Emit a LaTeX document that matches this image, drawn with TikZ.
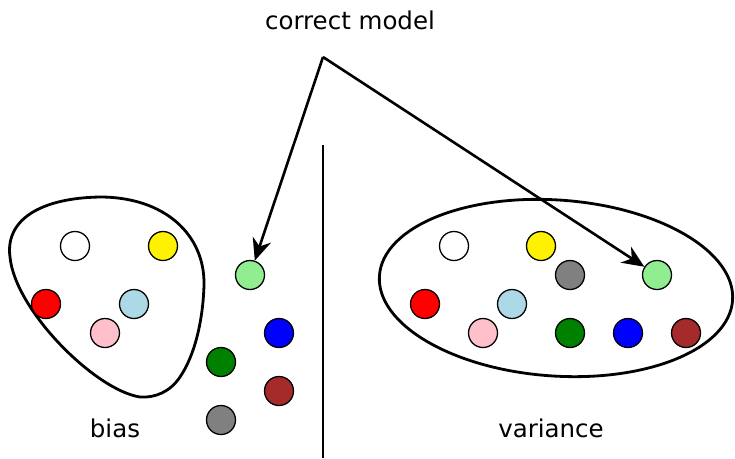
\documentclass[tikz,border=0pt]{standalone}
\usepackage{fontspec}
\setmainfont{DejaVu Sans}
\usetikzlibrary{arrows.meta}
\definecolor{clb}{RGB}{173,216,230}
\definecolor{cpk}{RGB}{255,192,203}
\definecolor{clg}{RGB}{144,238,144}
\definecolor{cgr}{RGB}{0,128,0}
\definecolor{cbr}{RGB}{165,42,42}
\definecolor{cgy}{RGB}{128,128,128}
\begin{document}
\begin{tikzpicture}[x=1pt,y=-1pt,
  ball/.style={circle,draw=black,line width=1.3pt,minimum size=29pt,inner sep=0pt,fill=#1},
  lbl/.style={font=\fontsize{24.5}{28}\selectfont,inner sep=0pt},
  blob/.style={draw=black,line width=2.8pt},
  arr/.style={line width=2.6pt,-{Stealth[length=22pt,width=19pt,inset=7pt]}}]
\useasboundingbox (0,0) rectangle (735,458);
% left blob
\draw[blob] (100,197) .. controls (165,197) and (205,235) .. (204,285)
  .. controls (203,320) and (195,355) .. (180,377)
  .. controls (170,392) and (155,398) .. (140,397)
  .. controls (95,390) and (15,310) .. (10,257)
  .. controls (5,220) and (40,198) .. (100,197) -- cycle;
% right ellipse
\draw[blob,rotate around={-4:(556,288)}] (556,288) ellipse [x radius=177, y radius=88];
% divider
\coordinate (vtop) at (323,145);
\coordinate (vbot) at (323,458);
\draw[line width=1.4pt] (vtop) -- (vbot);
% left balls
\node[ball=white] (lw) at (75,246) {};
\node[ball=yellow] (ly) at (163,246) {};
\node[ball=red] (lr) at (46,304) {};
\node[ball=clb] (llb) at (134,304) {};
\node[ball=cpk] (lp) at (105,333) {};
\node[ball=clg] (lg1) at (250,275) {};
\node[ball=blue] (lb) at (279,333) {};
\node[ball=cgr] (lgr) at (221,362) {};
\node[ball=cbr] (lbr) at (279,391) {};
\node[ball=cgy] (lgy) at (221,420) {};
% right balls
\node[ball=white] (rw) at (454,246) {};
\node[ball=yellow] (ry) at (541,246) {};
\node[ball=cgy] (rgy) at (570,275) {};
\node[ball=clg] (lg2) at (657,275) {};
\node[ball=red] (rr) at (425,304) {};
\node[ball=clb] (rlb) at (512,304) {};
\node[ball=cpk] (rp) at (483,333) {};
\node[ball=cgr] (rgr) at (570,333) {};
\node[ball=blue] (rb) at (628,333) {};
\node[ball=cbr] (rbr) at (686,333) {};
% labels
\node[lbl] (cm) at (350,20) {correct model};
\node[lbl] (bias) at (115,428) {bias};
\node[lbl] (var) at (551,428) {variance};
% arrows
\coordinate (apex) at (323,57);
\draw[arr] (apex) -- (lg1);
\draw[arr] (apex) -- (lg2);
\end{tikzpicture}
\end{document}
